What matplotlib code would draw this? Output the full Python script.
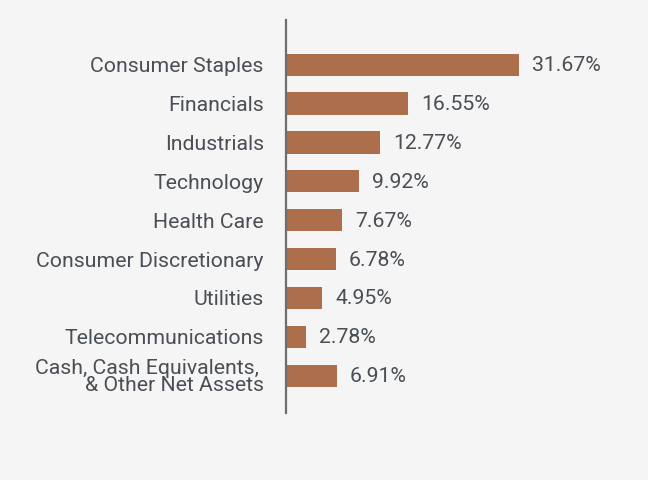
import matplotlib
matplotlib.use("Agg")
import matplotlib.pyplot as plt

categories = ["Consumer Staples", "Financials", "Industrials", "Technology", "Health Care",
              "Consumer Discretionary", "Utilities", "Telecommunications",
              "Cash, Cash Equivalents, \n& Other Net Assets"]
values = [31.67, 16.55, 12.77, 9.92, 7.67, 6.78, 4.95, 2.78, 6.91]
value_labels = ["31.67%", "16.55%", "12.77%", "9.92%", "7.67%", "6.78%", "4.95%", "2.78%", "6.91%"]

plt.rcParams['font.family'] = ['Roboto', 'DejaVu Sans']
bg = "#f5f5f5"
text_color = "#4a4f55"
bar_color = "#ad6e4b"
fs = 15.3

fig = plt.figure(figsize=(6.48, 4.8), dpi=100, facecolor=bg)
ax = fig.add_axes([286/648, 1-413/480, 354/648, 393/480])
ax.set_facecolor(bg)

y = list(range(len(categories)))
ax.barh(y, values, height=0.57, color=bar_color)
ax.set_ylim(8.96, -1.15)
ax.set_xlim(0, 354/7.357)

for yi, v, lab in zip(y, values, value_labels):
    ax.annotate(lab, (v, yi), xytext=(13, -1), textcoords="offset pixels",
                va="center", ha="left", fontsize=fs, color=text_color)

ax.set_yticks(y)
ax.set_yticklabels(categories, fontsize=fs, color=text_color, linespacing=0.92)
ax.tick_params(axis="y", length=0, pad=16)
ax.set_xticks([])
for s in ["top", "right", "bottom"]:
    ax.spines[s].set_visible(False)
ax.spines["left"].set_color("#6b6e72")
ax.spines["left"].set_linewidth(1.6)

fig.savefig("out.png", dpi=100, facecolor=bg)
